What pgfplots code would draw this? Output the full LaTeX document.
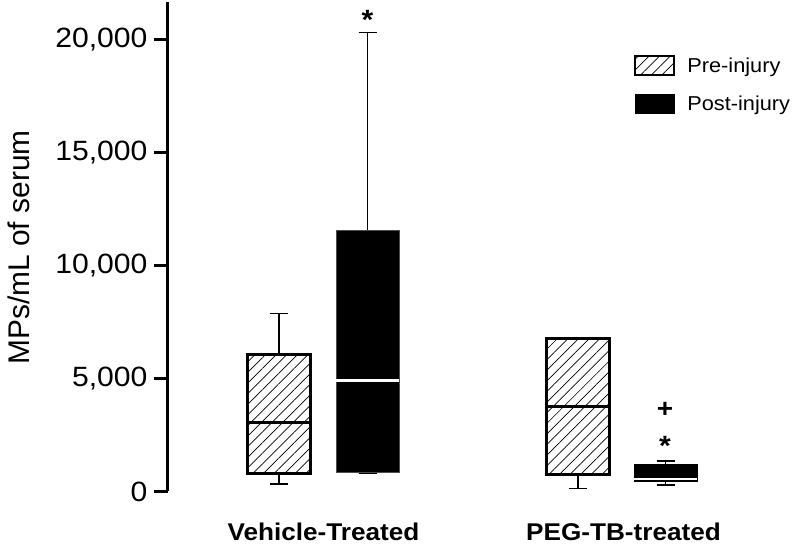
\documentclass[border=0pt]{standalone}
\usepackage{fontspec}
\setmainfont[FakeStretch=1.08]{Liberation Sans}
\newfontfamily\plainsans{Liberation Sans}
\usepackage{pgfplots}
\pgfplotsset{compat=1.18}
\usepgfplotslibrary{statistics}
\usetikzlibrary{patterns.meta}
\tikzset{hatch/.style={pattern={Lines[angle=45,distance=7.5bp,line width=0.7bp]}}}
\begin{document}
\begin{tikzpicture}
\begin{axis}[
 scale only axis, width=624bp, height=489.5bp,
 xmin=1.68, xmax=7.92, ymin=0, ymax=21.65,
 clip=false,
 boxplot/draw direction=y,
 axis y line=left, axis x line=bottom,
 x axis line style={draw=none},
 y axis line style={-, line width=3bp, black},
 xtick={3.235,6.235}, xticklabels={Vehicle-Treated, PEG-TB-treated},
 major x tick style={draw=none},
 xticklabel style={anchor=base, inner sep=0pt, yshift=-35bp, font=\fontsize{24.3}{28}\selectfont\bfseries},
 ytick={0,5,10,15,20},
 yticklabels={0,{5,000},{10,000},{15,000},{20,000}},
 tick align=outside,
 major tick length=14bp,
 y tick style={black, line width=3bp},
 yticklabel style={font=\fontsize{28}{30}\selectfont, xshift=-3bp},
 ylabel={MPs/mL of serum},
 every axis y label/.style={at={(rel axis cs:-0.2388,0.4985)}, rotate=90, anchor=center, inner sep=0pt, font=\plainsans\fontsize{30}{32}\selectfont},
 legend style={draw=none, fill=none, at={(axis cs:6.34,19.306)}, anchor=north west, font=\fontsize{20.2}{24}\selectfont, row sep=17.3bp, inner sep=0pt, nodes={inner sep=0pt}},
 legend cell align=left,
]
\path (axis cs:0,-2.41) rectangle (axis cs:7.92,21.738);
% Vehicle pre
\addplot[boxplot prepared={draw position=2.79, lower whisker=0.330, lower quartile=0.775, median=3.060, upper quartile=6.080, upper whisker=7.880, box extend=0.63, whisker extend=0.18,
 every median/.style={line width=2.5bp, black}, every whisker/.style={line width=1.5bp, black}},
 draw=black, line width=3bp, hatch, solid, forget plot] coordinates {};
% Vehicle post
\addplot[boxplot prepared={draw position=3.675, lower whisker=0.790, lower quartile=0.850, median=4.900, upper quartile=11.565, upper whisker=20.290, box extend=0.63, whisker extend=0.18,
 every median/.style={line width=2.5bp, white}, every whisker/.style={line width=1.5bp, black}},
 draw=black!70, fill=black, line width=1bp, solid, forget plot] coordinates {};
% PEG pre
\addplot[boxplot prepared={draw position=5.78, lower whisker=0.125, lower quartile=0.760, median=3.750, upper quartile=6.745, upper whisker=6.800, box extend=0.63, whisker extend=0.18,
 every median/.style={line width=2.5bp, black}, every whisker/.style={line width=1.5bp, black}},
 draw=black, line width=3bp, hatch, solid, forget plot] coordinates {};
% PEG post
\addplot[boxplot prepared={draw position=6.657, lower whisker=0.287, lower quartile=0.442, median=0.553, upper quartile=1.203, upper whisker=1.349, box extend=0.63, whisker extend=0.18,
 every median/.style={line width=1.8bp, white}, every whisker/.style={line width=1.5bp, black}},
 draw=black, fill=black, line width=1bp, solid, forget plot] coordinates {};
\node[font=\fontsize{28}{30}\selectfont\bfseries] at (axis cs:3.675,20.85) {*};
\node[font=\fontsize{28}{30}\selectfont\bfseries] at (axis cs:6.65,2.0) {*};
\node[font=\fontsize{26}{30}\selectfont\bfseries] at (axis cs:6.65,3.6) {+};
\addlegendimage{legend image code/.code={\draw[draw=black,line width=2bp,hatch] (0bp,-9.6bp) rectangle (39bp,9.6bp); \path (52bp,0bp);}}
\addlegendentry{Pre-injury}
\addlegendimage{legend image code/.code={\fill[black] (0bp,-9.6bp) rectangle (39bp,9.6bp); \path (52bp,0bp);}}
\addlegendentry{Post-injury}
\end{axis}
\end{tikzpicture}
\end{document}
